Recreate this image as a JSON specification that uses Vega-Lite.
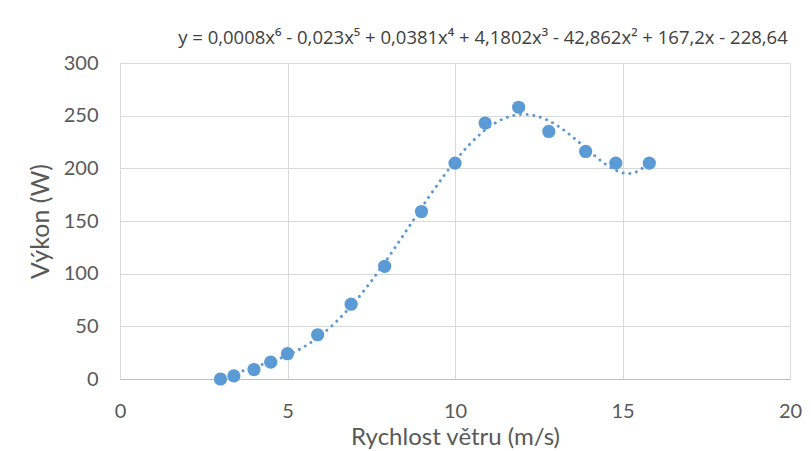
{
  "$schema": "https://vega.github.io/schema/vega-lite/v6.json",
  "width": 670,
  "height": 316,
  "autosize": {"type": "none"},
  "padding": {"left": 120, "top": 63, "right": 21, "bottom": 72},
  "background": "white",
  "title": {
    "text": "y = 0,0008x⁶ - 0,023x⁵ + 0,0381x⁴ + 4,1802x³ - 42,862x² + 167,2x - 228,64",
    "anchor": "middle",
    "dx": 28,
    "offset": 6,
    "font": "Open Sans",
    "fontSize": 18.5,
    "fontWeight": "normal",
    "color": "#404040"
  },
  "data": {
    "values": [
      {"v": 3.0, "p": 0},
      {"v": 3.4, "p": 3},
      {"v": 4.0, "p": 9},
      {"v": 4.5, "p": 16},
      {"v": 5.0, "p": 24},
      {"v": 5.9, "p": 42},
      {"v": 6.9, "p": 71},
      {"v": 7.9, "p": 107},
      {"v": 9.0, "p": 159},
      {"v": 10.0, "p": 205},
      {"v": 10.9, "p": 243},
      {"v": 11.9, "p": 258},
      {"v": 12.8, "p": 235},
      {"v": 13.9, "p": 216},
      {"v": 14.8, "p": 205},
      {"v": 15.8, "p": 205}
    ]
  },
  "layer": [
    {
      "transform": [
        {"regression": "p", "on": "v", "method": "poly", "order": 6, "extent": [3.3, 15.6]}
      ],
      "mark": {"type": "line", "color": "#5B9BD5", "strokeWidth": 3, "strokeDash": [0.01, 6.7], "strokeCap": "round", "interpolate": "monotone"},
      "encoding": {
        "x": {"field": "v", "type": "quantitative"},
        "y": {"field": "p", "type": "quantitative"}
      }
    },
    {
      "mark": {"type": "circle", "color": "#5B9BD5", "opacity": 1, "size": 175},
      "encoding": {
        "x": {
          "field": "v",
          "type": "quantitative",
          "scale": {"domain": [0, 20], "nice": false},
          "axis": {
            "title": "Rychlost větru (m/s)",
            "values": [0, 5, 10, 15, 20],
            "grid": true,
            "gridColor": "#D9D9D9",
            "domainColor": "#BFBFBF",
            "ticks": false,
            "labelFlush": false,
            "labelBaseline": "alphabetic",
            "labelPadding": 38,
            "labelFont": "Lato",
            "labelFontSize": 20,
            "labelColor": "#595959",
            "titleFont": "Lato",
            "titleFontSize": 24,
            "titleFontWeight": "normal",
            "titleColor": "#595959",
            "titleBaseline": "alphabetic",
            "titleY": 65
          }
        },
        "y": {
          "field": "p",
          "type": "quantitative",
          "scale": {"domain": [0, 300], "nice": false},
          "axis": {
            "title": "Výkon (W)",
            "values": [0, 50, 100, 150, 200, 250, 300],
            "grid": true,
            "gridColor": "#D9D9D9",
            "domain": false,
            "ticks": false,
            "labelFlush": false,
            "labelPadding": 22,
            "labelFont": "Lato",
            "labelFontSize": 20,
            "labelColor": "#595959",
            "titleFont": "Lato",
            "titleFontSize": 25,
            "titleFontWeight": "normal",
            "titleColor": "#595959",
            "titleX": -72,
            "titleY": 158,
            "titleBaseline": "alphabetic",
            "titleAngle": -90
          }
        }
      }
    }
  ],
  "config": {"view": {"stroke": null}}
}
